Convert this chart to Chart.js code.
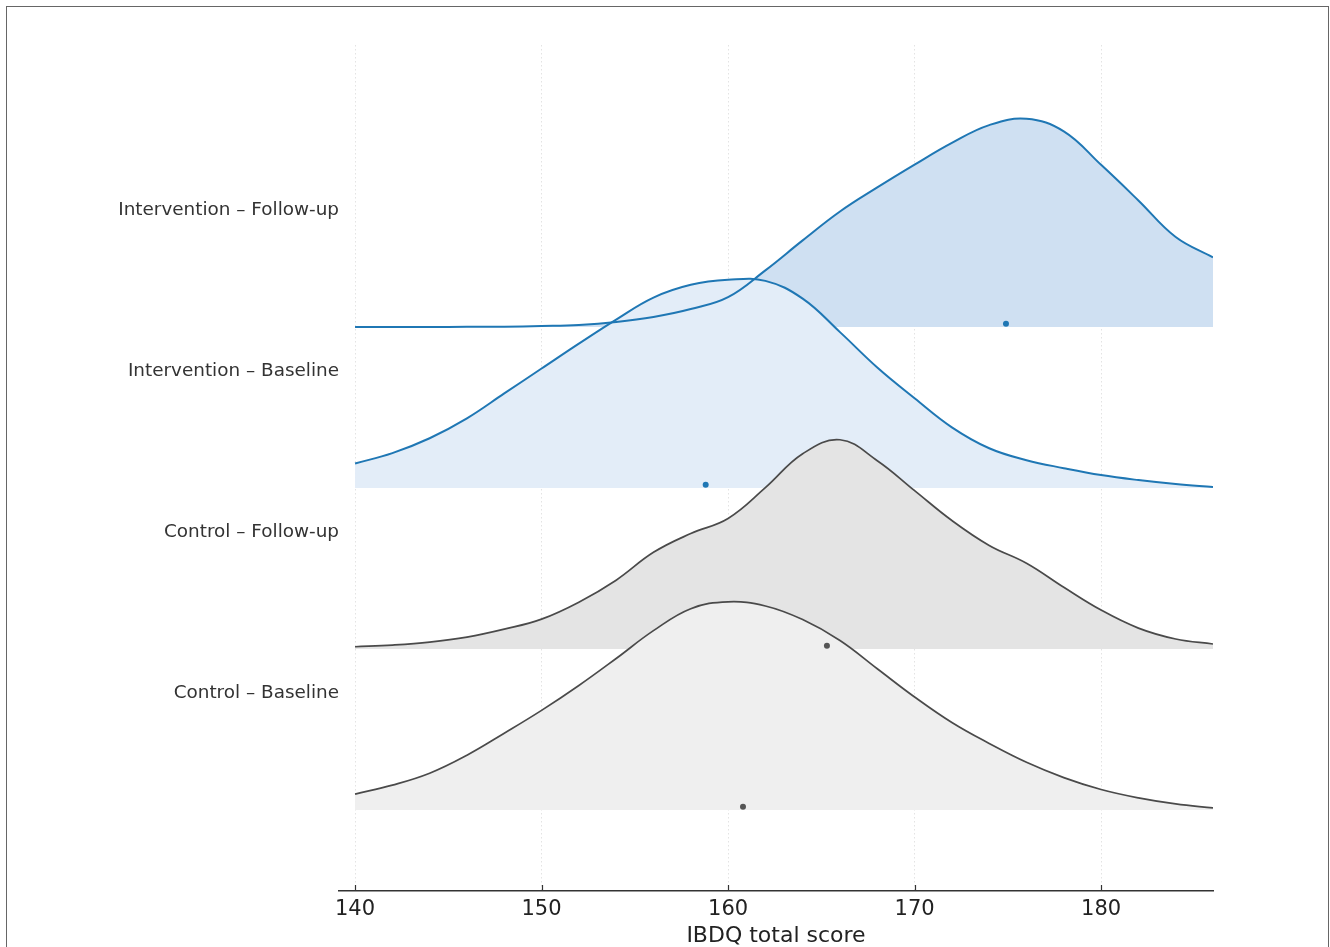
<!DOCTYPE html>
<html>
<head>
  <meta charset="utf-8">
  <title>IBDQ total score – ridgeline</title>
  <script src="https://cdn.jsdelivr.net/npm/chart.js"></script>
  <style>
    html, body { margin: 0; padding: 0; background: #fff; }
    canvas { position: absolute; left: 0; top: 0; }
    .frame { position: absolute; left: 6px; top: 6px; width: 1321px; height: 960px; border: 1px solid #666; pointer-events: none; }
  </style>
</head>
<body>
  <canvas id="ridge" width="1330" height="947"></canvas>
  <div class="frame"></div>

  <script>
    // groups, bottom ridge first
    const categories = ['Control – Baseline', 'Control – Follow-up', 'Intervention – Baseline', 'Intervention – Follow-up'];
    const xTicks = [140, 150, 160, 170, 180];

    // IBDQ score grid the curves were read at
    const scores = [140, 142, 144, 146, 148, 150, 152, 154, 156, 158, 160, 162, 164, 166, 168, 170, 172, 174, 176, 178, 180, 182, 184, 186];

    // density curves, normalised so each peak = 1
    const cbDensity = [0.076, 0.119, 0.176, 0.262, 0.367, 0.476, 0.595, 0.724, 0.857, 0.962, 0.995, 0.975, 0.910, 0.810, 0.675, 0.540, 0.418, 0.318, 0.228, 0.155, 0.098, 0.058, 0.029, 0.010];
    const cfDensity = [0.011, 0.019, 0.033, 0.057, 0.095, 0.143, 0.224, 0.329, 0.462, 0.552, 0.624, 0.771, 0.933, 1.0, 0.900, 0.757, 0.614, 0.495, 0.410, 0.295, 0.186, 0.100, 0.048, 0.024];
    const ibDensity = [0.117, 0.167, 0.238, 0.333, 0.452, 0.571, 0.690, 0.805, 0.910, 0.971, 0.995, 0.990, 0.905, 0.745, 0.576, 0.429, 0.290, 0.190, 0.133, 0.095, 0.062, 0.038, 0.019, 0.005];
    const ifDensity = [0, 0, 0, 0.001, 0.002, 0.005, 0.010, 0.024, 0.048, 0.086, 0.143, 0.271, 0.414, 0.552, 0.667, 0.776, 0.880, 0.965, 0.995, 0.935, 0.775, 0.605, 0.430, 0.333];

    // group means (dots)
    const means = [160.8, 165.3, 158.8, 174.9];

    const ridgeHeight = 1.3;   // peak height relative to ridge spacing
    const labelLift = 0.727;
    const dotLift = 0.021;
    const FONT = '"DejaVu Sans", sans-serif';

    const blue = '#1f77b4';
    const grey = '#4a4a4a';
    const lineColors = [grey, grey, blue, blue];
    const fillColors = ['#efefef', '#e4e4e4', '#e3edf8', '#cfe0f2'];
    const dotColors = ['#555', '#555', blue, blue];

    const densities = [cbDensity, cfDensity, ibDensity, ifDensity];

    function ridge(i) {
      return {
        label: categories[i],
        data: scores.map((x, k) => ({ x: x, y: i + densities[i][k] * ridgeHeight })),
        borderColor: lineColors[i],
        borderWidth: i < 2 ? 1.7 : 2,
        backgroundColor: fillColors[i],
        fill: { value: i },
        tension: 0.4,
        pointRadius: 0
      };
    }

    function meanDot(i) {
      return {
        label: categories[i] + ' mean',
        data: [{ x: means[i], y: i + dotLift }],
        showLine: false,
        fill: false,
        pointRadius: 3,
        pointBackgroundColor: dotColors[i],
        pointBorderWidth: 0
      };
    }

    // ticks point up into the plot
    const innerTicks = {
      id: 'innerTicks',
      afterDraw(chart) {
        const ctx = chart.ctx;
        const x = chart.scales.x;
        const base = chart.chartArea.bottom;
        ctx.save();
        ctx.strokeStyle = '#333';
        ctx.lineWidth = 1.2;
        x.ticks.forEach(t => {
          const px = Math.round(x.getPixelForValue(t.value)) + 0.5;
          ctx.beginPath();
          ctx.moveTo(px, base);
          ctx.lineTo(px, base - 6);
          ctx.stroke();
        });
        ctx.restore();
      }
    };

    // dots first so they end up on top, then ridges bottom-up (lower ridge fill over upper)
    const datasets = [0, 1, 2, 3].map(meanDot).concat([0, 1, 2, 3].map(ridge));

    new Chart(document.getElementById('ridge'), {
      type: 'line',
      data: { datasets: datasets },
      plugins: [innerTicks],
      options: {
        responsive: false,
        animation: false,
        events: [],
        layout: { autoPadding: false, padding: { top: 45, right: 117, bottom: 0, left: 0 } },
        plugins: {
          legend: { display: false },
          tooltip: { enabled: false },
          filler: { drawTime: 'beforeDatasetsDraw' }
        },
        scales: {
          x: {
            type: 'linear',
            min: 139.14,
            max: 186,
            z: 1,
            afterBuildTicks: s => { s.ticks = xTicks.map(v => ({ value: v })); },
            afterFit: s => { s.height = 56; },
            grid: { color: 'rgba(0,0,0,0.11)', lineWidth: 1, drawTicks: false },
            border: { display: true, color: '#333', width: 1.5, dash: [1.5, 2.5] },
            ticks: { color: '#222', font: { family: FONT, size: 21 }, padding: 6, maxRotation: 0 },
            title: { display: true, text: 'IBDQ total score', color: '#222', font: { family: FONT, size: 22 }, padding: { top: 0, bottom: -2 } }
          },
          y: {
            type: 'linear',
            min: -0.503,
            max: 4.752,
            afterBuildTicks: s => { s.ticks = categories.map((c, i) => ({ value: i + labelLift })); },
            afterFit: s => { s.width = 339; },
            grid: { display: false, drawTicks: false },
            border: { display: false },
            ticks: {
              callback: (v, i) => categories[i],
              color: '#333',
              font: { family: FONT, size: 18.4 },
              padding: 0
            }
          }
        }
      }
    });
  </script>
</body>
</html>
